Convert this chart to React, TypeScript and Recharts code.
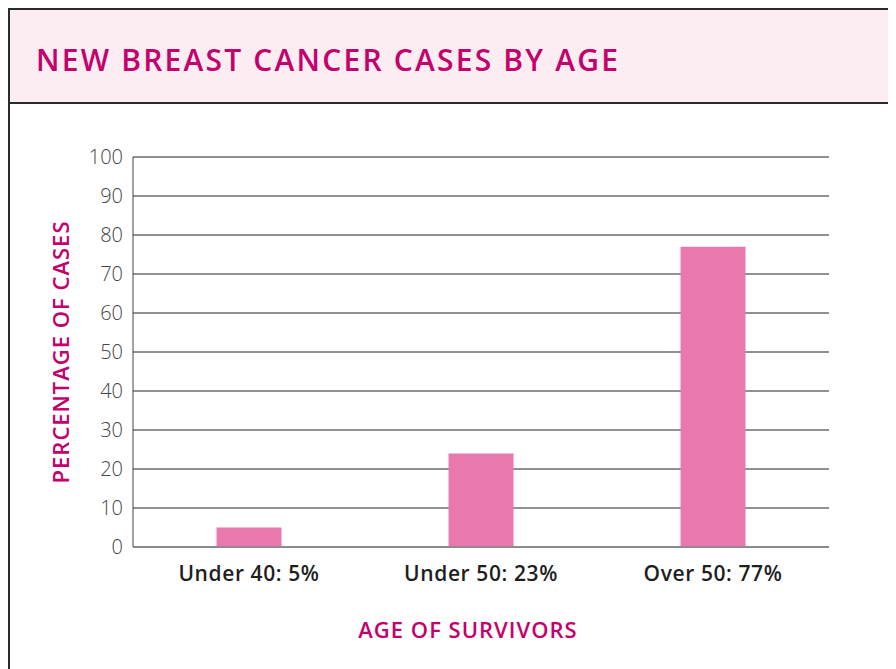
import React from "react";
import {
  BarChart,
  Bar,
  XAxis,
  YAxis,
  CartesianGrid,
  Label,
} from "recharts";

const categories = ["Under 40: 5%", "Under 50: 23%", "Over 50: 77%"];
const percentages = [5, 24, 77];
const yTicks = [0, 10, 20, 30, 40, 50, 60, 70, 80, 90, 100];

const data = categories.map((name, i) => ({ name, value: percentages[i] }));

const MAGENTA = "#c4006d";
const FONT = "'Open Sans', sans-serif";

export default function App() {
  return (
    <div
      style={{
        width: 900,
        height: 670,
        borderTop: "2px solid #2b2b2b",
        borderLeft: "2px solid #2b2b2b",
        overflow: "hidden",
        fontFamily: FONT,
        boxSizing: "border-box",
      }}
    >
      <div
        style={{
          height: 94,
          background: "#fbedf2",
          borderBottom: "2px solid #2b2b2b",
          boxSizing: "border-box",
          paddingLeft: 26,
          paddingTop: 6,
          display: "flex",
          alignItems: "center",
        }}
      >
        <span
          style={{
            color: MAGENTA,
            fontSize: 30,
            fontWeight: 600,
            letterSpacing: 2.2,
          }}
        >
          NEW BREAST CANCER CASES BY AGE
        </span>
      </div>
      <BarChart
        width={880}
        height={560}
        data={data}
        margin={{ top: 53, right: 61, bottom: 87, left: 0 }}
        barCategoryGap="36%"
      >
        <CartesianGrid vertical={false} stroke="#222" strokeWidth={1} />
        <XAxis
          dataKey="name"
          tickLine={false}
          axisLine={{ stroke: "#8a8a8a", strokeWidth: 1.5 }}
          tick={{ fill: "#1e1e1e", fontSize: 21, fontFamily: FONT, fontWeight: 600, letterSpacing: 0.6 }}
          tickMargin={13}
          height={30}
        >
          <Label
            value="AGE OF SURVIVORS"
            position="bottom"
            offset={45}
            dx={-13}
            style={{ fill: MAGENTA, fontSize: 22, fontFamily: FONT, fontWeight: 600, letterSpacing: 1 }}
          />
        </XAxis>
        <YAxis
          type="number"
          domain={[0, 100]}
          ticks={yTicks}
          width={123}
          tickLine={false}
          tickSize={0}
          tickMargin={10}
          axisLine={{ stroke: "#444", strokeWidth: 1 }}
          tick={{ fill: "#444", fontSize: 20, fontFamily: FONT, fontWeight: 300 }}
        >
          <Label
            value="PERCENTAGE OF CASES"
            angle={-90}
            position="center"
            dx={-10}
            style={{ fill: MAGENTA, fontSize: 22, fontFamily: FONT, fontWeight: 600, letterSpacing: 1, textAnchor: "middle" }}
          />
        </YAxis>
        <Bar dataKey="value" fill="#e878ad" isAnimationActive={false} />
      </BarChart>
    </div>
  );
}
